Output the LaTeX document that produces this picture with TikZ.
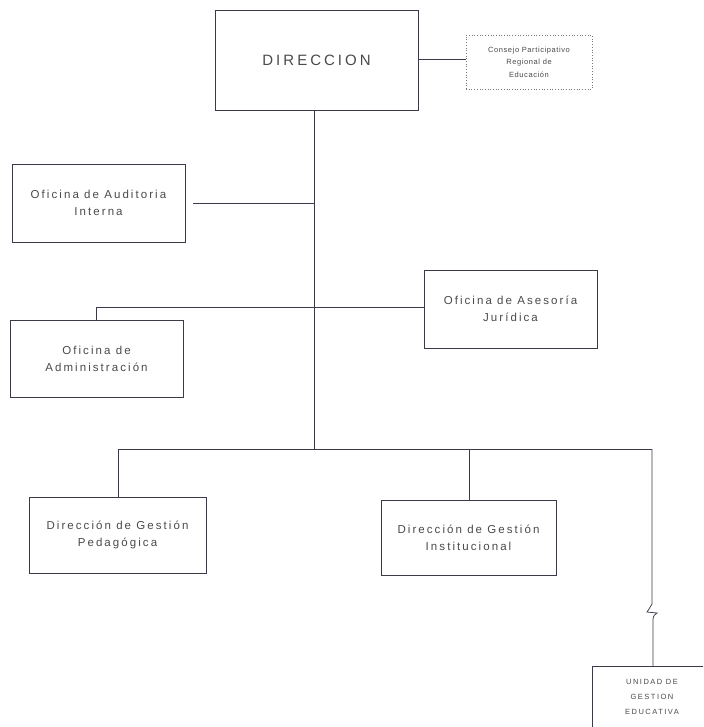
\documentclass[tikz,border=0pt]{standalone}
\usepackage{fontspec}
\setmainfont{Liberation Sans}
\newfontfamily\orgfont[LetterSpace=18]{Liberation Sans}
\newfontfamily\capfont[LetterSpace=20]{Liberation Sans}
\newfontfamily\smallfont[LetterSpace=8]{Liberation Sans}
\definecolor{ink}{HTML}{3A3A48}
\definecolor{txt}{HTML}{4A4A4A}
\begin{document}
\begin{tikzpicture}[x=1pt,y=-1pt,
  unit/.style={draw=ink, line width=0.85pt, rectangle, inner sep=0pt, align=center,
     text=txt, font=\orgfont\fontsize{11.5}{17}\selectfont},
  conn/.style={draw=ink, line width=0.75pt},
  advisory/.style={draw=ink!70, dotted, line width=0.7pt, rectangle, inner sep=0pt, align=center,
     text=txt, font=\smallfont\fontsize{7.5}{12.5}\selectfont}]
\useasboundingbox (0,0) rectangle (703,727);
\clip (0,0) rectangle (703,727);
\fill[white] (0,0) rectangle (703,727);

\node[unit, minimum width=203pt, minimum height=100pt, font=\capfont\fontsize{15}{18}\selectfont] (dir) at (316.5,60) {\raisebox{-5pt}{DIRECCION}};
\node[advisory, minimum width=126pt, minimum height=54pt] (cons) at (529,62) {Consejo Participativo\\Regional de\\Educación};
\node[unit, minimum width=173pt, minimum height=78pt] (aud) at (98.5,203) {Oficina de Auditoria\\Interna};
\node[unit, minimum width=173pt, minimum height=78pt] (ases) at (510.5,309) {Oficina de Asesoría\\Jurídica};
\node[unit, minimum width=173pt, minimum height=77pt] (adm) at (96.5,358.5) {Oficina de\\Administración};
\node[unit, minimum width=177pt, minimum height=76pt] (ped) at (117.5,535) {Dirección de Gestión\\Pedagógica};
\node[unit, minimum width=175pt, minimum height=75pt] (ins) at (468.5,537.5) {Dirección de Gestión\\Institucional};
\node[unit, minimum width=140pt, anchor=north, inner ysep=13pt, text depth=0pt,
      font=\capfont\fontsize{7.5}{15}\selectfont] (uge) at (662,666) {\hspace*{-20pt}UNIDAD DE\\\hspace*{-20pt}GESTION\\\hspace*{-20pt}EDUCATIVA};

% coordinates of the trunk and branches
\coordinate (trunk) at (314,449);
\coordinate (admbar) at (96.5,307);
\coordinate (botL) at (118,449);
\coordinate (botM) at (469,449);
\coordinate (botR) at (652,449);
\coordinate (brkA) at (652,604);
\coordinate (brkB) at (647,612);
\coordinate (brkC) at (657,613);
\coordinate (brkD) at (653,619);

% connectors
\draw[conn] (dir.east |- 0,59) -- (cons.west |- 0,59);
\draw[conn] (dir.south -| trunk) -- (trunk);
\draw[conn, shorten <=8pt] (aud.east) -- (aud.east -| trunk);
\draw[conn] (adm.north -| admbar) -- (admbar) -- (ases.west |- admbar);
\draw[conn] (botL) -- (botR);
\draw[conn] (botL) -- (ped.north -| botL);
\draw[conn] (botM) -- (ins.north -| botM);
\draw[conn] (botR) -- (brkA) .. controls (649,609) .. (brkB) -- (brkC) .. controls (654,615) .. (brkD) -- (uge.north -| brkD);
\end{tikzpicture}
\end{document}
